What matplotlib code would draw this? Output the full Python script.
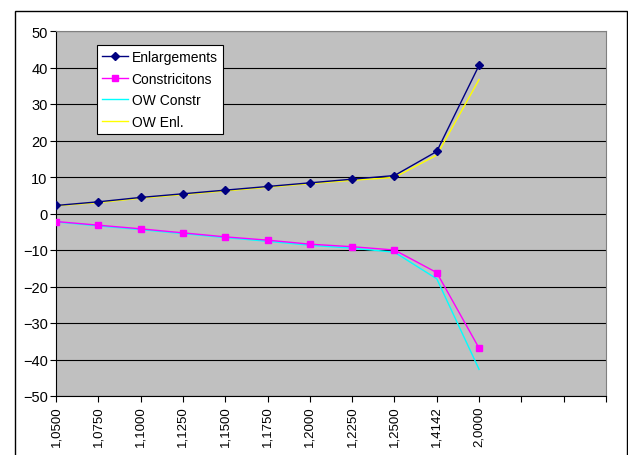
import matplotlib
matplotlib.use("Agg")
import matplotlib.pyplot as plt
from matplotlib.patches import Rectangle

plt.rcParams["font.family"] = ["Liberation Sans", "DejaVu Sans"]

# categories (the axis has 14 slots, only the first 11 are labelled)
categories = ["1,0500", "1,0750", "1,1000", "1,1250", "1,1500", "1,1750",
              "1,2000", "1,2250", "1,2500", "1,4142", "2,0000", "", "", ""]

enlargements = [2.2, 3.2, 4.4, 5.4, 6.4, 7.4, 8.4, 9.4, 10.4, 17.0, 40.6]
constrictions = [-2.2, -3.2, -4.2, -5.3, -6.4, -7.3, -8.4, -9.1, -10.0, -16.2, -36.9]
ow_constr = [-2.3, -3.4, -4.4, -5.5, -6.6, -7.6, -8.7, -9.5, -10.6, -17.9, -42.7]
ow_enl = [2.1, 3.0, 4.2, 5.2, 6.2, 7.2, 8.2, 9.1, 9.9, 16.0, 36.7]

yticks = list(range(-50, 51, 10))

fig = plt.figure(figsize=(6.28, 4.56), dpi=100)
ax = fig.add_axes([56 / 628, 1 - 397 / 456, 550 / 628, 365 / 456])
ax.set_facecolor("#C0C0C0")

# outer chart border
fig.patches.append(Rectangle((15 / 628, -0.05), 612 / 628, 1 - 12 / 456 + 0.05,
                             transform=fig.transFigure, fill=False,
                             edgecolor="black", linewidth=1.0))

x = list(range(len(enlargements)))
ax.plot(x, enlargements, color="#000080", lw=1.0, marker="D", ms=4,
        label="Enlargements", zorder=4)
ax.plot(x, constrictions, color="#FF00FF", lw=1.0, marker="s", ms=5,
        label="Constricitons", zorder=4)
ax.plot(x, ow_constr, color="#00FFFF", lw=1.0, label="OW Constr", zorder=3)
ax.plot(x, ow_enl, color="#FFFF00", lw=1.0, label="OW Enl.", zorder=3)

ax.set_xlim(0, len(categories) - 1)
ax.set_ylim(-50, 50)
ax.set_yticks(yticks)
ax.set_xticks(range(len(categories)))
ax.set_xticklabels(categories, rotation=90, fontsize=9.5)
ax.tick_params(axis="y", labelsize=10.5, length=4, direction="out", pad=2)
ax.tick_params(axis="x", length=4, direction="out", pad=3)

ax.grid(axis="y", color="black", lw=0.8)
ax.set_axisbelow(True)
for side in ["top", "right"]:
    ax.spines[side].set_color("#808080")
for side in ["left", "bottom"]:
    ax.spines[side].set_color("black")

leg = ax.legend(loc="upper left", bbox_to_anchor=(41 / 550, 1 - 14 / 365),
                borderaxespad=0, fontsize=10, frameon=True, fancybox=False,
                edgecolor="black", framealpha=1, handlelength=1.9,
                borderpad=0.35, labelspacing=0.55, handletextpad=0.25)
leg.get_frame().set_linewidth(0.8)

fig.savefig("out.png", dpi=100)
